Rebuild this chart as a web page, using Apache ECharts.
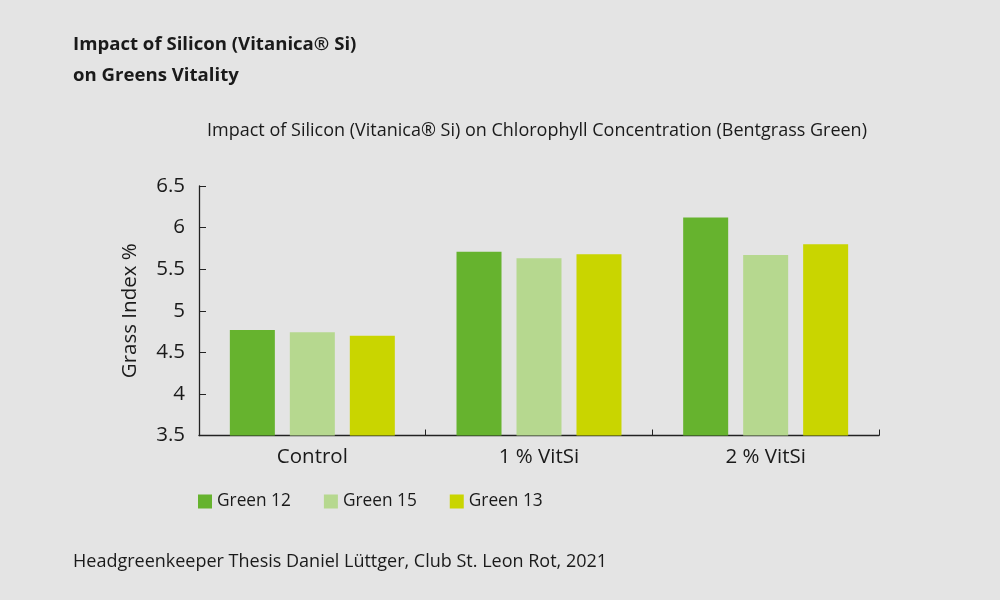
<!DOCTYPE html>
<html><head><meta charset="utf-8">
<script src="https://cdn.jsdelivr.net/npm/echarts@6/dist/echarts.min.js"></script>
<style>html,body{margin:0;padding:0;background:#e4e4e4;}#c{width:1000px;height:600px;}</style>
</head><body><div id="c"></div>
<script>
const categories = ['Control', '1 % VitSi', '2 % VitSi'];
const seriesNames = ['Green 12', 'Green 15', 'Green 13'];
const green12 = [4.77, 5.71, 6.12];
const green15 = [4.74, 5.63, 5.67];
const green13 = [4.70, 5.68, 5.80];
const colors = ['#66b32e', '#b6d88f', '#c9d500'];
const FONT = '"Open Sans", "Noto Sans", sans-serif';
const TXT = '#1a1a1a';
const chart = echarts.init(document.getElementById('c'));
const vals = [green12, green15, green13];
chart.setOption({
  backgroundColor: '#e4e4e4',
  textStyle: { fontFamily: FONT, color: TXT },
  title: [
    { text: 'Impact of Silicon (Vitanica® Si)\non Greens Vitality', left: 68, top: 24,
      textStyle: { fontFamily: FONT, fontSize: 18.6, fontWeight: 'bold', color: TXT, lineHeight: 31 } },
    { text: 'Impact of Silicon (Vitanica® Si) on Chlorophyll Concentration (Bentgrass Green)', left: 532, top: 117, textAlign: 'center',
      textStyle: { fontFamily: FONT, fontSize: 18, fontWeight: 'normal', color: TXT } },
    { text: 'Headgreenkeeper Thesis Daniel Lüttger, Club St. Leon Rot, 2021', left: 68, top: 548,
      textStyle: { fontFamily: FONT, fontSize: 18, fontWeight: 'normal', color: TXT } }
  ],
  legend: {
    left: 193, top: 488, itemWidth: 14, itemHeight: 14, itemGap: 33, icon: 'rect',
    textStyle: { fontFamily: FONT, fontSize: 17.3, color: TXT }
  },
  grid: { left: 199, right: 121, top: 186, bottom: 164.5, containLabel: false },
  xAxis: {
    type: 'category', data: categories,
    axisLine: { lineStyle: { color: '#222', width: 1.3 } },
    axisTick: { show: true, inside: true, length: 6, lineStyle: { color: '#222' } },
    axisLabel: { fontFamily: FONT, fontSize: 20.5, color: TXT, margin: 11 }
  },
  yAxis: {
    type: 'value', min: 3.5, max: 6.5, interval: 0.5,
    name: 'Grass Index %', nameLocation: 'middle', nameGap: 58,
    nameTextStyle: { fontFamily: FONT, fontSize: 20.5, color: TXT },
    axisLine: { show: true, lineStyle: { color: '#222', width: 1.3 } },
    axisTick: { show: true, inside: true, length: 7, lineStyle: { color: '#222' } },
    axisLabel: { fontFamily: FONT, fontSize: 20.5, color: TXT, margin: 14 },
    splitLine: { show: false }
  },
  series: seriesNames.map((n, i) => ({
    name: n, type: 'bar', data: vals[i], barWidth: 45, barGap: '33.3%',
    itemStyle: { color: colors[i] }
  }))
});
</script></body></html>
